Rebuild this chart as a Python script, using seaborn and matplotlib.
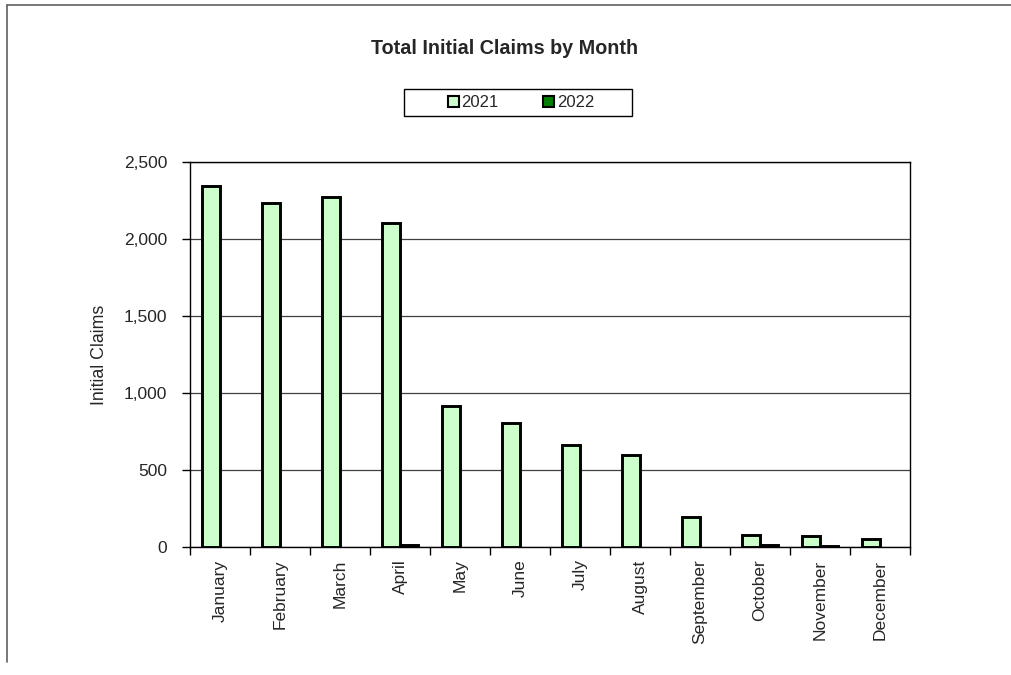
import matplotlib
matplotlib.use("Agg")
import matplotlib.pyplot as plt
from matplotlib.lines import Line2D
from matplotlib.patches import Rectangle
from matplotlib.ticker import FuncFormatter, MultipleLocator
import seaborn as sns
import pandas as pd
import numpy as np

months = ["January", "February", "March", "April", "May", "June",
          "July", "August", "September", "October", "November", "December"]
claims_2021 = [2345, 2234, 2272, 2104, 915, 808, 662, 598, 197, 78, 71, 52]
claims_2022 = [np.nan, np.nan, np.nan, 12, np.nan, np.nan,
               np.nan, np.nan, np.nan, 10, 8, np.nan]
years = ["2021", "2022"]

df = pd.DataFrame({
    "Month": months * 2,
    "Claims": claims_2021 + claims_2022,
    "Year": [years[0]] * 12 + [years[1]] * 12,
})

sns.set_theme(style="white")
plt.rcParams['font.family'] = ['Liberation Sans', 'DejaVu Sans']

fig = plt.figure(figsize=(10.12, 6.75), dpi=100)
ax = fig.add_axes([190 / 1012, 1 - 547 / 675, 720 / 1012, 385 / 675])

sns.barplot(data=df, x="Month", y="Claims", hue="Year", order=months,
            hue_order=years, palette=["#CCFFCC", "#008000"], width=0.6,
            edgecolor="black", linewidth=2.1, saturation=1, ax=ax, zorder=3)

ax.set_xlim(-0.5, 11.5)
ax.set_ylim(0, 2500)
ax.yaxis.set_major_locator(MultipleLocator(500))
ax.yaxis.set_major_formatter(FuncFormatter(lambda v, p: f"{int(v):,}"))
ax.grid(axis="y", color="#404040", linewidth=0.9, zorder=0)
ax.set_axisbelow(True)

for s in ax.spines.values():
    s.set_color("black")
    s.set_linewidth(1)

# ticks at category boundaries, labels at centers
ax.set_xticks(np.arange(12))
ax.set_xticklabels(months, rotation=90, fontsize=12.5)
ax.tick_params(axis="x", which="major", length=0, pad=9)
ax.set_xticks(np.arange(-0.5, 12, 1), minor=True)
ax.tick_params(axis="x", which="minor", bottom=True, length=6, width=1, color="black")
ax.tick_params(axis="y", left=True, length=6, width=1, color="black", labelsize=12.5, pad=10.5)

ax.set_xlabel("")
ax.set_ylabel("Initial Claims", fontsize=12.8, labelpad=11)

fig.text(505 / 1012, 1 - 48 / 675, "Total Initial Claims by Month",
         ha="center", va="center", fontsize=14.2, fontweight="bold")

leg = ax.legend(loc="center", bbox_to_anchor=(521 / 1012, 1 - 102.5 / 675),
                bbox_transform=fig.transFigure, ncol=2, frameon=False,
                fontsize=12, handlelength=0.66, handleheight=0.66,
                handletextpad=0.15, columnspacing=2.7, borderpad=0,
                borderaxespad=0)
for h in leg.legend_handles:
    h.set_linewidth(1.5)

# legend box
fig.add_artist(Rectangle((404 / 1012, 1 - 116 / 675), 228 / 1012, 27 / 675,
                         transform=fig.transFigure, fill=False,
                         edgecolor="black", linewidth=1))

# outer chart border (top and left visible)
fig.add_artist(Line2D([7 / 1012, 1.0], [1 - 5 / 675, 1 - 5 / 675],
                      transform=fig.transFigure, color="#606060", linewidth=1.2))
fig.add_artist(Line2D([7 / 1012, 7 / 1012], [1 - 5 / 675, 1 - 662 / 675],
                      transform=fig.transFigure, color="#606060", linewidth=1.2))

fig.savefig("out.png", dpi=100, facecolor="white")
